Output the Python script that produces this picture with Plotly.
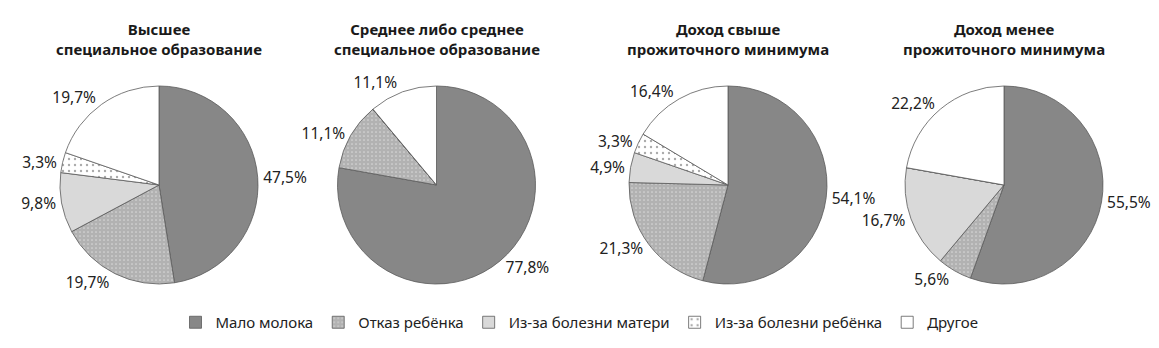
import plotly.graph_objects as go

# Reasons for stopping breastfeeding, by group (percent)
reasons = ["Мало молока", "Отказ ребёнка", "Из-за болезни матери",
           "Из-за болезни ребёнка", "Другое"]

titles = [
    "Высшее<br>специальное образование",
    "Среднее либо среднее<br>специальное образование",
    "Доход свыше<br>прожиточного минимума",
    "Доход менее<br>прожиточного минимума",
]

higher_edu = [47.5, 19.7, 9.8, 3.3, 19.7]
secondary_edu = [77.8, 11.1, 0.0, 0.0, 11.1]
income_above = [54.1, 21.3, 4.9, 3.3, 16.4]
income_below = [55.5, 5.6, 16.7, 0.0, 22.2]

groups = [higher_edu, secondary_edu, income_above, income_below]

W, H = 1159, 348
centers_x = [159, 436.5, 728, 1004]
radius = 99
center_y = 185

fills = ["#878787", "#ffffff", "#d9d9d9", "#ffffff", "#ffffff"]
pattern_shapes = ["", ".", "", ".", ""]
pattern_fg = ["#878787", "#666666", "#d9d9d9", "#555555", "#ffffff"]
pattern_sizes = [8, 4, 8, 6, 8]
pattern_solidity = [0.2, 0.85, 0.2, 0.12, 0.2]

font_family = "Noto Sans, Open Sans, sans-serif"

fig = go.Figure()
for i, (vals, cx) in enumerate(zip(groups, centers_x)):
    x0 = (cx - radius) / W
    x1 = (cx + radius) / W
    y0 = (H - (center_y + radius)) / H
    y1 = (H - (center_y - radius)) / H
    text = [f"{v:.1f}%".replace(".", ",") if v > 0 else "" for v in vals]
    fig.add_trace(go.Pie(
        labels=reasons,
        values=vals,
        text=text,
        textinfo="text",
        textposition="outside",
        sort=False,
        direction="clockwise",
        rotation=0,
        domain=dict(x=[x0, x1], y=[y0, y1]),
        showlegend=(i == 0),
        marker=dict(
            colors=fills,
            line=dict(color="#5a5a5a", width=0.8),
            pattern=dict(
                shape=pattern_shapes,
                fgcolor=pattern_fg,
                bgcolor=fills,
                size=pattern_sizes,
                solidity=pattern_solidity,
                fillmode="overlay",
            ),
        ),
        outsidetextfont=dict(family=font_family, size=15.5, color="#222222"),
        hoverinfo="label+percent",
    ))
    fig.add_annotation(
        x=cx / W, y=1 - 39 / H, xref="paper", yref="paper",
        text=f"<b>{titles[i]}</b>", showarrow=False,
        font=dict(family=font_family, size=15, color="#1a1a1a"),
        xanchor="center", yanchor="middle",
    )

fig.update_layout(
    width=W, height=H,
    margin=dict(l=0, r=0, t=0, b=0),
    paper_bgcolor="white",
    plot_bgcolor="white",
    font=dict(family=font_family, size=15, color="#222222"),
    legend=dict(
        orientation="h",
        x=0.5, xanchor="center",
        y=1 - 306 / H, yanchor="top",
        font=dict(family=font_family, size=15, color="#222222"),
        itemwidth=30,
        traceorder="normal",
    ),
)

fig.write_html("out.html")
